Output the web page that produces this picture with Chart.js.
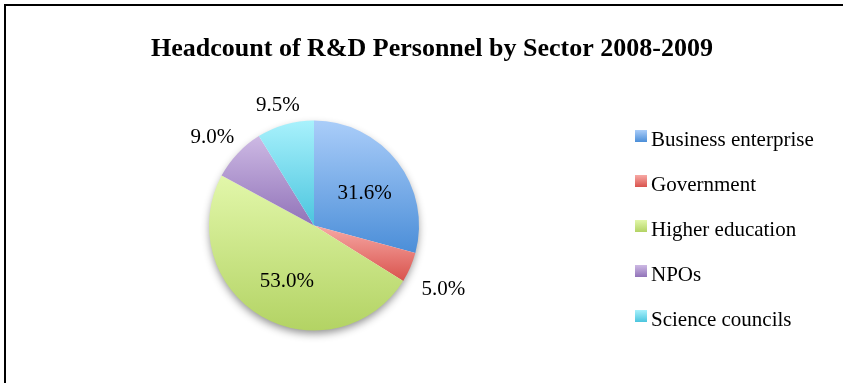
<!DOCTYPE html>
<html lang="en">
<head>
    <meta charset="UTF-8">
    <title>Headcount of R&amp;D Personnel by Sector 2008-2009</title>
    <style>
        html, body { margin: 0; padding: 0; background: #fff; }
        .frame {
            position: absolute;
            left: 4px; top: 4px;
            width: 839px; height: 379px;
            border-top: 2px solid #000;
            border-left: 2px solid #000;
        }
        #sectorPie { position: absolute; left: 0; top: 0; }
    </style>
</head>
<body>
<div class="frame"></div>
<canvas id="sectorPie" width="843" height="383"></canvas>

<script src="https://cdn.jsdelivr.net/npm/chart.js"></script>
<script>
const chartTitle = 'Headcount of R&D Personnel by Sector 2008-2009';
const sectors = ['Business enterprise', 'Government', 'Higher education', 'NPOs', 'Science councils'];
const shares = [31.6, 5.0, 53.0, 9.0, 9.5];
// light (top) and dark (bottom) ends of each slice gradient
const topColors = ['#aacdf9', '#f7a9a5', '#e2f7aa', '#cdb9e4', '#a8f1fc'];
const bottomColors = ['#4b8ed8', '#d9534d', '#b3d364', '#9173b8', '#4bc5de'];

const serif = '"Liberation Serif", "Times New Roman", serif';

// vertical extent of a slice so each one gets its own top-to-bottom gradient
function sliceGradient(ctx) {
    const chart = ctx.chart;
    const area = chart.chartArea;
    const i = ctx.dataIndex;
    if (!area) return topColors[i];
    const cx = (area.left + area.right) / 2;
    const cy = (area.top + area.bottom) / 2;
    const r = Math.min(area.width, area.height) / 2;
    const total = shares.reduce((a, b) => a + b, 0);
    const before = shares.slice(0, i).reduce((a, b) => a + b, 0);
    const start = -Math.PI / 2 + before / total * 2 * Math.PI;
    const end = start + shares[i] / total * 2 * Math.PI;
    const ys = [cy, cy + r * Math.sin(start), cy + r * Math.sin(end)];
    [-Math.PI / 2, Math.PI / 2, 3 * Math.PI / 2].forEach(a => {
        if (a > start && a < end) ys.push(cy + r * Math.sin(a));
    });
    const g = chart.ctx.createLinearGradient(0, Math.min(...ys), 0, Math.max(...ys));
    g.addColorStop(0, topColors[i]);
    g.addColorStop(1, bottomColors[i]);
    return g;
}

// soft shadow under the whole pie
const pieShadow = {
    id: 'pieShadow',
    beforeDatasetsDraw(chart) {
        const arc = chart.getDatasetMeta(0).data[0];
        if (!arc) return;
        const {x, y, outerRadius} = arc.getProps(['x', 'y', 'outerRadius'], true);
        const ctx = chart.ctx;
        ctx.save();
        ctx.shadowColor = 'rgba(0,0,0,0.45)';
        ctx.shadowBlur = 8;
        ctx.shadowOffsetY = 4;
        ctx.fillStyle = '#ffffff';
        ctx.beginPath();
        ctx.arc(x, y, outerRadius - 1, 0, Math.PI * 2);
        ctx.fill();
        ctx.restore();
    }
};

// percentage labels: big slices inside, small ones outside the rim
const sliceLabels = {
    id: 'sliceLabels',
    afterDatasetsDraw(chart) {
        const ctx = chart.ctx;
        ctx.save();
        ctx.font = '21px ' + serif;
        ctx.fillStyle = '#000';
        ctx.textAlign = 'center';
        ctx.textBaseline = 'middle';
        chart.getDatasetMeta(0).data.forEach((arc, i) => {
            const p = arc.getProps(['x', 'y', 'startAngle', 'endAngle', 'outerRadius'], true);
            const mid = (p.startAngle + p.endAngle) / 2;
            const text = shares[i].toFixed(1) + '%';
            const cos = Math.cos(mid), sin = Math.sin(mid);
            if (shares[i] > 20) {
                const dist = p.outerRadius * 0.57;
                ctx.fillText(text, p.x + cos * dist + 3, p.y + sin * dist + 4);
            } else {
                const w = ctx.measureText(text).width;
                const dist = p.outerRadius + 12 + Math.abs(cos) * w / 2 + Math.abs(sin) * 10;
                ctx.fillText(text, p.x + cos * dist, p.y + sin * dist + 8);
            }
        });
        ctx.restore();
    }
};

// title and legend on the right
const titleAndLegend = {
    id: 'titleAndLegend',
    afterDraw(chart) {
        const ctx = chart.ctx;
        ctx.save();
        ctx.fillStyle = '#000';
        ctx.font = 'bold 26px ' + serif;
        ctx.textAlign = 'center';
        ctx.textBaseline = 'alphabetic';
        ctx.fillText(chartTitle, 432, 55.5);

        ctx.font = '21px ' + serif;
        ctx.textAlign = 'left';
        sectors.forEach((name, i) => {
            const base = 146 + i * 45;
            const g = ctx.createLinearGradient(0, base - 16, 0, base - 4);
            g.addColorStop(0, topColors[i]);
            g.addColorStop(1, bottomColors[i]);
            ctx.fillStyle = g;
            ctx.fillRect(635, base - 16, 12, 12);
            ctx.fillStyle = '#000';
            ctx.fillText(name, 651, base);
        });
        ctx.restore();
    }
};

new Chart(document.getElementById('sectorPie'), {
    type: 'pie',
    data: {
        labels: sectors,
        datasets: [{
            data: shares,
            backgroundColor: sliceGradient,
            borderWidth: 0
        }]
    },
    options: {
        responsive: false,
        animation: false,
        layout: { padding: { left: 209, right: 424, top: 120, bottom: 52 } },
        plugins: {
            legend: { display: false },
            title: { display: false },
            tooltip: { enabled: false }
        }
    },
    plugins: [pieShadow, sliceLabels, titleAndLegend]
});
</script>
</body>
</html>
